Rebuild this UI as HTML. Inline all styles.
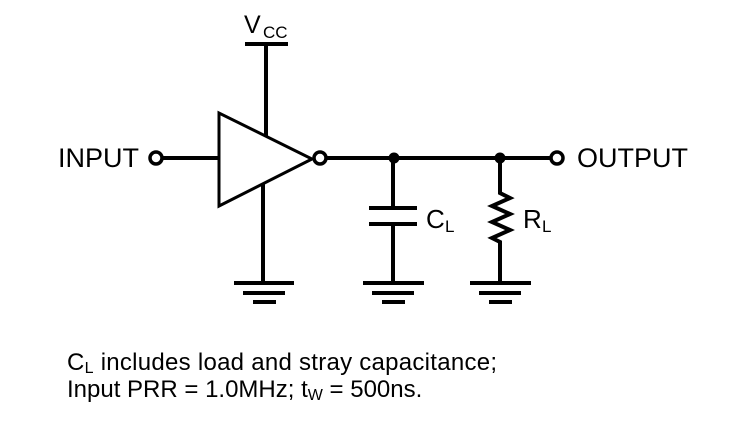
<!DOCTYPE html>
<html><head><style>
body{margin:0;background:#fff;}
svg{display:block;}
text{font-family:"Liberation Sans",Arial,sans-serif;fill:#000;}
</style></head><body>
<svg width="738" height="430" viewBox="0 0 738 430">
<g stroke="#000" stroke-width="4" fill="none">
<line x1="245" y1="44" x2="288" y2="44"/>
<line x1="266" y1="44" x2="266" y2="137"/>
<polygon points="219,113 219,206 312,159" stroke-width="3"/>
<circle cx="156" cy="158" r="6" stroke-width="3.5"/>
<line x1="162" y1="158" x2="219" y2="158"/>
<circle cx="320" cy="158" r="6" stroke-width="3.5"/>
<line x1="326" y1="158" x2="551" y2="158"/>
<circle cx="557" cy="158" r="6" stroke-width="3.5"/>
<line x1="263" y1="184" x2="263" y2="283"/>
<line x1="393" y1="158" x2="393" y2="208"/>
<line x1="369" y1="208" x2="417" y2="208"/>
<line x1="369" y1="224" x2="417" y2="224"/>
<line x1="393" y1="224" x2="393" y2="283"/>
<polyline points="500,158 500,193 510,198 492,206 510,214 492,222 510,230 492,238 500,242 500,283" stroke-linejoin="miter"/>
</g>
<g fill="#000">
<circle cx="394" cy="158" r="5.5"/>
<circle cx="500" cy="158" r="5.5"/>
</g>
<g stroke="#000" stroke-width="4">
<line x1="234" y1="283" x2="294" y2="283"/>
<line x1="243" y1="293" x2="285" y2="293"/>
<line x1="253" y1="302" x2="276" y2="302"/>
<line x1="363" y1="283" x2="424" y2="283"/>
<line x1="372" y1="293" x2="414" y2="293"/>
<line x1="382" y1="302" x2="405" y2="302"/>
<line x1="470" y1="283" x2="531" y2="283"/>
<line x1="479" y1="293" x2="521" y2="293"/>
<line x1="489" y1="302" x2="512" y2="302"/>
</g>
<text x="244" y="33" font-size="25">V</text><text x="263" y="38" font-size="17">CC</text>
<text x="58" y="167" font-size="27">INPUT</text>
<text x="577" y="167" font-size="27">OUTPUT</text>
<text x="426" y="228" font-size="26">C</text><text x="445" y="232" font-size="17">L</text>
<text x="523" y="228" font-size="26">R</text><text x="542" y="232" font-size="17">L</text>
<text x="67" y="370" font-size="24" textLength="430">C<tspan font-size="16" dy="3">L</tspan><tspan dy="-3"> includes load and stray capacitance;</tspan></text>
<text x="67" y="397" font-size="24">Input PRR = 1.0MHz; t<tspan font-size="16" dy="3">W</tspan><tspan dy="-3"> = 500ns.</tspan></text>
</svg>
</body></html>
